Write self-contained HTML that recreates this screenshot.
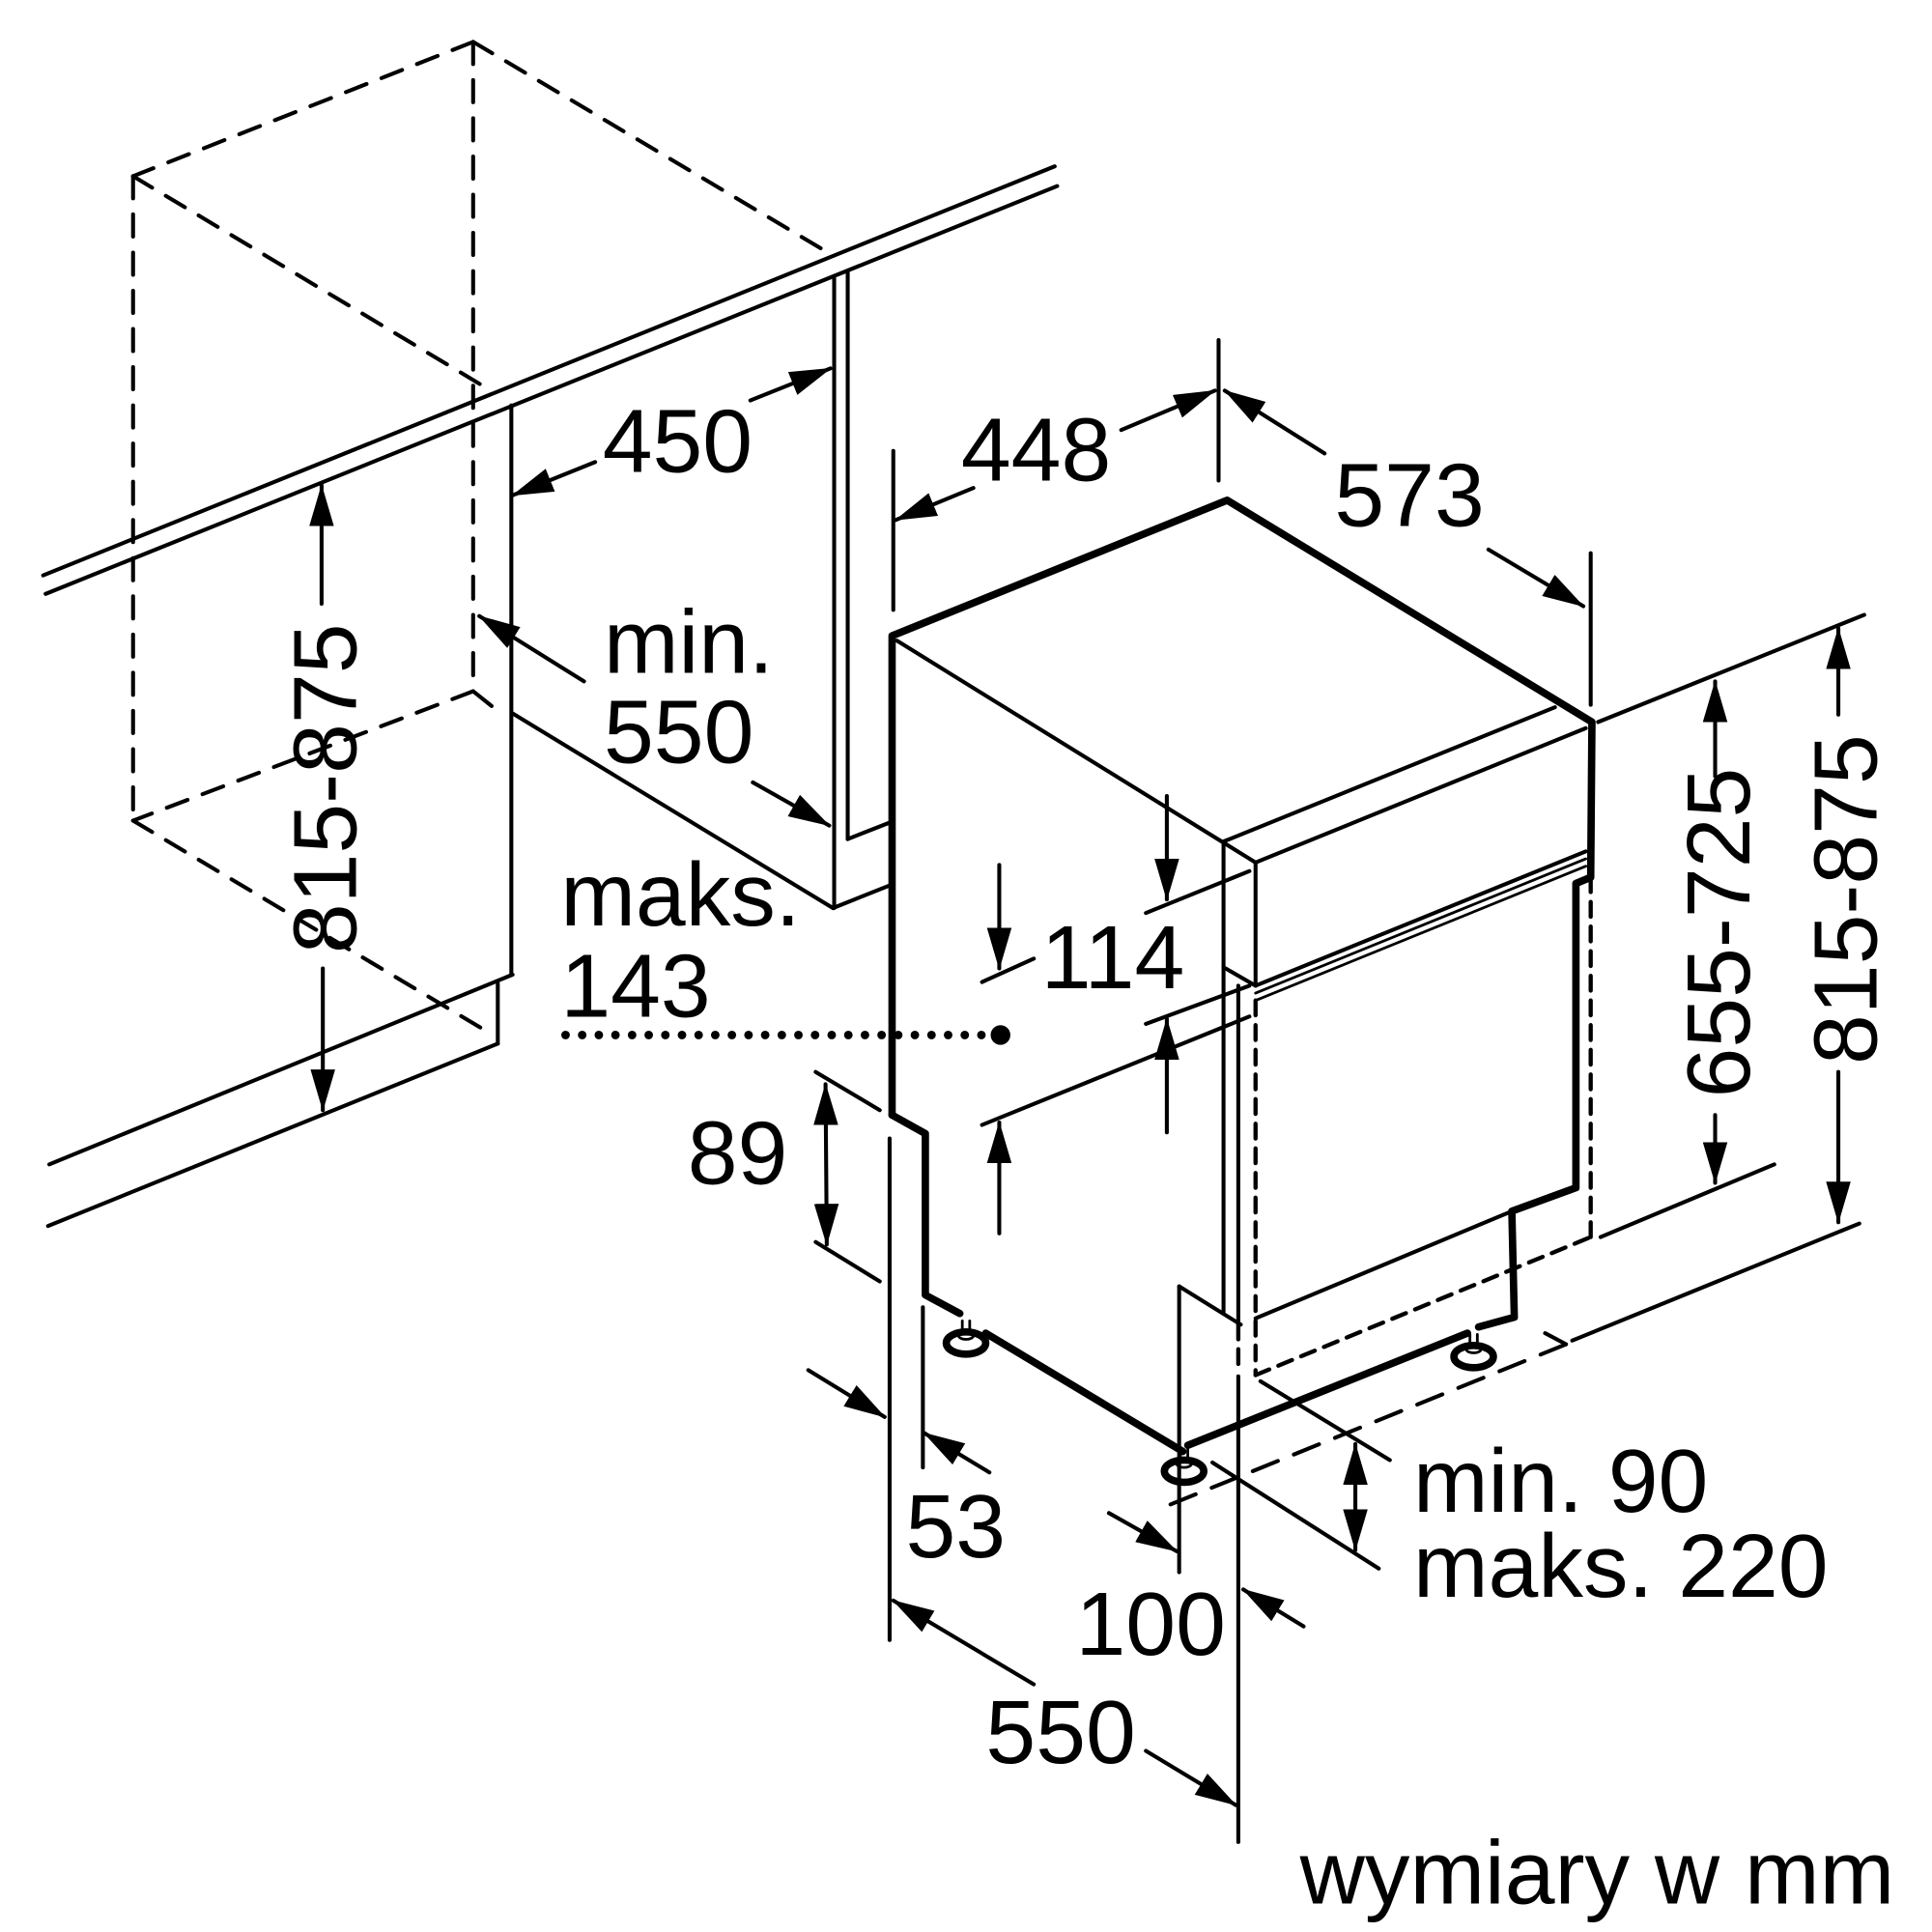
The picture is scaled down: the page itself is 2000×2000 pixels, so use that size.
<!DOCTYPE html>
<html><head><meta charset="utf-8"><style>html,body{margin:0;padding:0;background:#fff}svg{display:block}</style></head>
<body>
<svg xmlns="http://www.w3.org/2000/svg" width="2000" height="2000" viewBox="0 0 1568 1568">
<defs>
<marker id="a" markerUnits="userSpaceOnUse" markerWidth="34" markerHeight="20" refX="33" refY="10" orient="auto-start-reverse"><path d="M0,0 L34,10 L0,20 z" fill="#000"/></marker>
</defs>
<g fill="none" stroke="#000" stroke-width="3.2" stroke-linecap="round">
<!-- dashed upper cabinet -->
<g stroke-dasharray="18 13">
<line x1="384" y1="34" x2="108" y2="143"/>
<line x1="384" y1="34" x2="672" y2="205"/>
<line x1="108" y1="143" x2="395" y2="315"/>
<line x1="108" y1="143" x2="108" y2="666"/>
<line x1="384" y1="34" x2="384" y2="561"/>
<line x1="384" y1="561" x2="108" y2="666"/>
<line x1="108" y1="666" x2="400" y2="840"/>
</g>
<line x1="384" y1="561" x2="399" y2="573"/>
<!-- countertops -->
<line x1="35" y1="467" x2="856" y2="135"/>
<line x1="37" y1="482" x2="858" y2="151"/>
<line x1="416" y1="791" x2="40" y2="945"/>
<line x1="404" y1="798" x2="404" y2="847"/>
<line x1="404" y1="847" x2="39" y2="995"/>
<!-- left cabinet -->
<line x1="415" y1="329" x2="415" y2="791"/>
<line x1="416" y1="579" x2="676" y2="737"/>
<line x1="676" y1="737" x2="721" y2="719"/>
<line x1="677" y1="226" x2="677" y2="737"/>
<line x1="688" y1="220" x2="688" y2="681"/>
<line x1="688" y1="681" x2="721" y2="668"/>
<!-- dishwasher thick outline -->
<g stroke-width="6" stroke-linejoin="round">
<polyline points="724,905 724,516 996,406 1292,586 1291,712 1279,717 1279,964 1227,983 1229,1069 1200,1077"/>
<polyline points="724,905 751,920 751,1051 779,1066"/>
<line x1="800" y1="1082" x2="960" y2="1178"/>
<line x1="964" y1="1173" x2="1191" y2="1082"/>
<ellipse cx="784" cy="1090" rx="16" ry="9"/>
<ellipse cx="961" cy="1194" rx="16" ry="9"/>
<ellipse cx="1196" cy="1101" rx="16" ry="9"/>
</g>
<g stroke-width="2.2">
<ellipse cx="784" cy="1084" rx="6" ry="3"/><line x1="781" y1="1072" x2="781" y2="1082"/><line x1="787" y1="1072" x2="787" y2="1082"/>
<ellipse cx="961" cy="1188" rx="6" ry="3"/><line x1="958" y1="1176" x2="958" y2="1186"/><line x1="964" y1="1176" x2="964" y2="1186"/>
<ellipse cx="1196" cy="1095" rx="6" ry="3"/><line x1="1193" y1="1083" x2="1193" y2="1093"/><line x1="1199" y1="1083" x2="1199" y2="1093"/>
</g>
<!-- dishwasher thin lines -->
<line x1="728" y1="520" x2="1019" y2="700"/>
<line x1="993" y1="683" x2="1262" y2="574"/>
<line x1="1019" y1="700" x2="1287" y2="591"/>
<line x1="993" y1="683" x2="993" y2="1065"/>
<line x1="1019" y1="700" x2="1019" y2="800"/>
<line x1="993" y1="785" x2="1019" y2="800"/>
<line x1="1019" y1="800" x2="1287" y2="691"/>
<line x1="1019" y1="806" x2="1287" y2="697" stroke-width="2.2"/>
<line x1="1019" y1="812" x2="1287" y2="703" stroke-width="2.2"/>
<line x1="1005" y1="800" x2="1005" y2="1075"/>
<line x1="1019" y1="1070" x2="1227" y2="983"/>
<line x1="957" y1="1044" x2="1007" y2="1075"/>
<line x1="957" y1="1044" x2="957" y2="1276"/>
<g stroke-dasharray="12 8" stroke-width="3.4">
<line x1="1019" y1="812" x2="1019" y2="1116"/>
<line x1="1291" y1="712" x2="1291" y2="1004"/>
<line x1="1019" y1="1116" x2="1291" y2="1004"/>
<line x1="1005" y1="1075" x2="1005" y2="1110"/>
</g>
<g stroke-dasharray="22 14">
<line x1="950" y1="1221" x2="1271" y2="1091"/>
</g>
<line x1="1271" y1="1091" x2="1254" y2="1082"/>
<line x1="1276" y1="1088" x2="1509" y2="993"/>
<line x1="1299" y1="1004" x2="1440" y2="945"/>
<line x1="1297" y1="586" x2="1513" y2="499"/>
<!-- extension lines -->
<line x1="725" y1="366" x2="725" y2="495"/>
<line x1="989" y1="276" x2="989" y2="390"/>
<line x1="1291" y1="449" x2="1291" y2="572"/>
<line x1="662" y1="870" x2="714" y2="901"/>
<line x1="662" y1="1008" x2="714" y2="1040"/>
<line x1="722" y1="924" x2="722" y2="1331"/>
<line x1="749" y1="1061" x2="749" y2="1191"/>
<line x1="1005" y1="1117" x2="1005" y2="1495"/>
<line x1="930" y1="741" x2="1014" y2="707"/>
<line x1="797" y1="797" x2="839" y2="778"/>
<line x1="930" y1="831" x2="1014" y2="800"/>
<line x1="797" y1="913" x2="1014" y2="825"/>
<line x1="1023" y1="1121" x2="1128" y2="1185"/>
<line x1="984" y1="1187" x2="1119" y2="1273"/>
<!-- arrows -->
<g marker-end="url(#a)">
<line x1="261" y1="490" x2="261" y2="394"/>
<line x1="262" y1="786" x2="262" y2="901"/>
<line x1="483" y1="375" x2="416" y2="402"/>
<line x1="609" y1="325" x2="674" y2="299"/>
<line x1="474" y1="553" x2="389" y2="500"/>
<line x1="611" y1="635" x2="673" y2="670"/>
<line x1="790" y1="396" x2="727" y2="422"/>
<line x1="910" y1="349" x2="986" y2="317"/>
<line x1="1075" y1="368" x2="994" y2="317"/>
<line x1="1208" y1="446" x2="1285" y2="492"/>
<line x1="1392" y1="630" x2="1392" y2="553"/>
<line x1="1392" y1="905" x2="1392" y2="960"/>
<line x1="1492" y1="580" x2="1492" y2="510"/>
<line x1="1492" y1="870" x2="1492" y2="992"/>
<line x1="947" y1="646" x2="947" y2="730"/>
<line x1="811" y1="702" x2="811" y2="786"/>
<line x1="947" y1="919" x2="947" y2="827"/>
<line x1="811" y1="1001" x2="811" y2="911"/>
<line x1="656" y1="1112" x2="718" y2="1150"/>
<line x1="803" y1="1195" x2="750" y2="1163"/>
<line x1="900" y1="1228" x2="955" y2="1259"/>
<line x1="1058" y1="1320" x2="1009" y2="1290"/>
<line x1="839" y1="1367" x2="725" y2="1299"/>
<line x1="930" y1="1421" x2="1003" y2="1465"/>
</g>
<line x1="670" y1="880" x2="671" y2="1010" marker-start="url(#a)" marker-end="url(#a)"/>
<line x1="1100" y1="1172" x2="1100" y2="1258" marker-start="url(#a)" marker-end="url(#a)"/>
<!-- dotted -->
<line x1="459" y1="840" x2="800" y2="840" stroke-width="7" stroke-dasharray="0 13.5"/>
</g>
<circle cx="812" cy="840" r="8" fill="#000"/>
<g font-family="Liberation Sans, Arial, sans-serif" font-size="73" fill="#000">
<text x="489" y="383">450</text>
<text x="490" y="546">min.</text>
<text x="490" y="619">550</text>
<text x="455" y="751">maks.</text>
<text x="455" y="825">143</text>
<text x="780" y="390">448</text>
<text x="1083" y="427">573</text>
<text x="845" y="802">114</text>
<text x="558" y="961">89</text>
<text x="735" y="1264">53</text>
<text x="873" y="1343">100</text>
<text x="800" y="1431">550</text>
<text x="1147" y="1227">min. 90</text>
<text x="1147" y="1296">maks. 220</text>
<text x="1055" y="1545">wymiary w mm</text>
<text transform="translate(263,640) rotate(-90)" x="0" y="26" text-anchor="middle">815-875</text>
<text transform="translate(1394,757) rotate(-90)" x="0" y="26" text-anchor="middle">655-725</text>
<text transform="translate(1497,730) rotate(-90)" x="0" y="26" text-anchor="middle">815-875</text>
</g>
</svg>
</body></html>
